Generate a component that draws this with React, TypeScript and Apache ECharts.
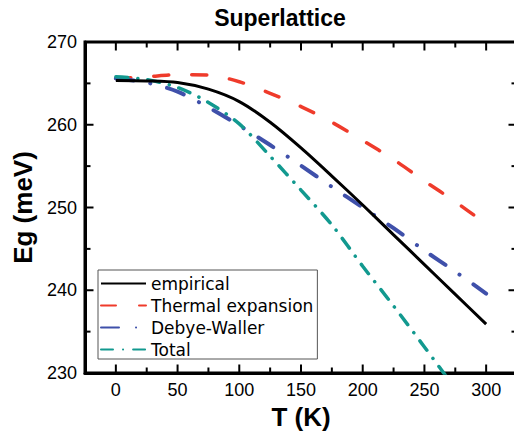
import React, { useEffect, useRef } from "react";
import * as echarts from "echarts";

const temps = [0, 25, 50, 75, 100, 125, 150, 175, 200, 225, 250, 275, 300];
const empirical = [265.35, 265.3, 265.1, 264.3, 262.8, 260.3, 257.2, 253.8, 250.3, 246.7, 243.1, 239.5, 235.9];
const thermal = [265.6, 265.8, 266.05, 266.0, 265.2, 263.8, 262.2, 260.3, 258.1, 255.8, 253.2, 250.7, 248.0];
const debye = [265.6, 265.1, 264.0, 262.1, 259.9, 257.55, 255.05, 252.5, 250.0, 247.5, 244.8, 242.25, 239.6];
const total = [265.8, 265.45, 264.5, 262.7, 260.1, 256.2, 252.1, 247.9, 242.9, 238.1, 233.15, 228.1, 223.0];

const seriesNames = ["empirical", "Thermal expansion", "Debye-Waller", "Total"];
const xMajorTicks = [0, 50, 100, 150, 200, 250, 300];
const xMinorTicks = [25, 75, 125, 175, 225, 275];
const yMajorTicks = [240, 250, 260];
const yMinorTicks = [235, 245, 255, 265];
const xStep = 50;
const xFrameMin = -25;
const xFrameMax = 325;
const yMin = 230;
const yMax = 270;
const yStep = 10;

const FONT = "'Liberation Sans', Arial, sans-serif";

function pairs(ys: number[]) {
  return temps.map((t, i) => [t, ys[i]]);
}

function xLabel(v: number) {
  return v % xStep === 0 && v >= 0 && v <= 300 ? String(v) : "";
}

type Spec = { kind: "frame" | "x" | "y"; v: number; len: number };
const specs: Spec[] = [
  { kind: "frame", v: 0, len: 0 },
  ...xMajorTicks.map((v) => ({ kind: "x" as const, v, len: 7 })),
  ...xMinorTicks.map((v) => ({ kind: "x" as const, v, len: 4 })),
  ...yMajorTicks.map((v) => ({ kind: "y" as const, v, len: 7 })),
  ...yMinorTicks.map((v) => ({ kind: "y" as const, v, len: 4 })),
];

export default function App() {
  const ref = useRef<HTMLDivElement>(null);
  useEffect(() => {
    if (!ref.current) return;
    const chart = echarts.init(ref.current, null, { renderer: "svg" });
    const tickStroke = { stroke: "#000", lineWidth: 2 };
    const renderFrame = (params: any, api: any) => {
      const s = specs[params.dataIndex];
      const tl = api.coord([xFrameMin, yMax]);
      const br = api.coord([xFrameMax, yMin]);
      if (s.kind === "frame") {
        return {
          type: "rect",
          shape: { x: tl[0], y: tl[1], width: br[0] - tl[0], height: br[1] - tl[1] },
          style: { fill: "none", stroke: "#000", lineWidth: 3 },
        };
      }
      if (s.kind === "x") {
        const px = api.coord([s.v, yMin])[0];
        return {
          type: "group",
          children: [
            { type: "line", shape: { x1: px, y1: br[1], x2: px, y2: br[1] - s.len - 1.5 }, style: tickStroke },
            { type: "line", shape: { x1: px, y1: tl[1], x2: px, y2: tl[1] + s.len + 1.5 }, style: tickStroke },
          ],
        };
      }
      const py = api.coord([xFrameMin, s.v])[1];
      return {
        type: "group",
        children: [
          { type: "line", shape: { x1: tl[0], y1: py, x2: tl[0] + s.len + 1.5, y2: py }, style: tickStroke },
          { type: "line", shape: { x1: br[0], y1: py, x2: br[0] - s.len - 1.5, y2: py }, style: tickStroke },
        ],
      };
    };
    chart.setOption({
      animation: false,
      title: {
        text: "Superlattice",
        left: 280,
        top: 6,
        padding: 0,
        textAlign: "center",
        textStyle: { fontFamily: FONT, fontSize: 23, fontWeight: "bold", color: "#000" },
      },
      grid: { left: 85, top: 42, right: 3, bottom: 58, outerBoundsMode: "none" },
      legend: {
        data: seriesNames,
        orient: "vertical",
        left: 98,
        top: 270,
        padding: [5, 4, 1, 2],
        itemWidth: 45,
        itemHeight: 14,
        itemGap: 5,
        borderColor: "#555",
        borderWidth: 1,
        backgroundColor: "#fff",
        itemStyle: { opacity: 0 },
        textStyle: { fontFamily: "'DejaVu Sans', sans-serif", fontSize: 17, color: "#000" },
        z: 10,
      },
      xAxis: {
        type: "value",
        position: "bottom",
        min: xFrameMin,
        max: xFrameMax,
        splitNumber: 7,
        minInterval: xStep,
        maxInterval: xStep,
        axisLine: { show: true, onZero: false, lineStyle: { color: "#000", width: 3 } },
        axisTick: { show: false },
        axisLabel: { fontFamily: FONT, fontSize: 18, color: "#000", margin: 8, formatter: xLabel },
        splitLine: { show: false },
        name: "T (K)",
        nameLocation: "middle",
        nameGap: 30,
        nameTextStyle: { fontFamily: FONT, fontSize: 26, fontWeight: "bold", color: "#000" },
      },
      yAxis: {
        type: "value",
        position: "left",
        min: yMin,
        max: yMax,
        interval: yStep,
        axisLine: { show: true, onZero: false, lineStyle: { color: "#000", width: 3 } },
        axisTick: { show: false },
        axisLabel: { fontFamily: FONT, fontSize: 18, color: "#000", margin: 8 },
        splitLine: { show: false },
        name: "Eg (meV)",
        nameLocation: "middle",
        nameGap: 45,
        nameTextStyle: { fontFamily: FONT, fontSize: 26, fontWeight: "bold", color: "#000" },
      },
      series: [
        {
          type: "custom",
          silent: true,
          z: 1,
          clip: false,
          renderItem: renderFrame,
          data: specs.map((s) => [s.kind === "x" ? s.v : xFrameMin, s.kind === "y" ? s.v : yMin]),
        },
        {
          name: seriesNames[0],
          type: "line",
          data: pairs(empirical),
          smooth: 0.3,
          symbol: "none",
          lineStyle: { color: "#000", width: 3 },
          itemStyle: { color: "#000" },
          z: 4,
        },
        {
          name: seriesNames[1],
          type: "line",
          data: pairs(thermal),
          smooth: 0.3,
          symbol: "none",
          lineStyle: { color: "#ef3b2b", width: 3.5, type: [15, 23], cap: "round" },
          itemStyle: { color: "#ef3b2b" },
          z: 3,
        },
        {
          name: seriesNames[2],
          type: "line",
          data: pairs(debye),
          smooth: 0.3,
          symbol: "none",
          lineStyle: { color: "#3f50aa", width: 4, type: [18, 17, 0.1, 17], cap: "round" },
          itemStyle: { color: "#3f50aa" },
          z: 3,
        },
        {
          name: seriesNames[3],
          type: "line",
          data: pairs(total),
          smooth: 0.3,
          symbol: "none",
          lineStyle: { color: "#12998f", width: 3.5, type: [12, 10, 0.1, 10], cap: "round" },
          itemStyle: { color: "#12998f" },
          z: 3,
        },
      ],
    });
    return () => chart.dispose();
  }, []);
  return (
    <div style={{ position: "fixed", left: 0, top: 0, width: 514, height: 431, overflow: "hidden", background: "#fff" }}>
      <div ref={ref} style={{ width: 520, height: 431 }} />
    </div>
  );
}
